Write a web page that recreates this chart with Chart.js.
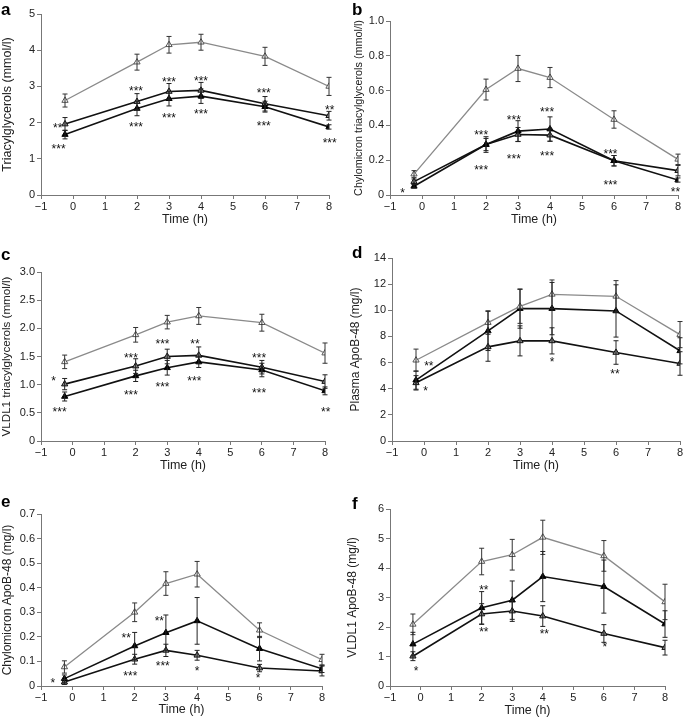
<!DOCTYPE html>
<html>
<head>
<meta charset="utf-8">
<script src="https://cdn.jsdelivr.net/npm/chart.js@4"></script>
<style>
  body { margin: 0; background: #fff; }
  #wrap { position: relative; width: 685px; height: 718px; }
  canvas { position: absolute; }
  .lbl { position: absolute; font: bold 17px "Liberation Sans", Arial, sans-serif; color: #000; line-height: 1; }
</style>
</head>
<body>
<div id="wrap">
  <canvas id="ca" width="340" height="238" style="left:0;top:0"></canvas>
  <canvas id="cb" width="340" height="238" style="left:345px;top:0"></canvas>
  <canvas id="cc" width="340" height="238" style="left:0;top:240px"></canvas>
  <canvas id="cd" width="340" height="238" style="left:345px;top:240px"></canvas>
  <canvas id="ce" width="340" height="238" style="left:0;top:480px"></canvas>
  <canvas id="cf" width="340" height="238" style="left:345px;top:480px"></canvas>
  <div class="lbl" style="left:1px;top:1px">a</div>
  <div class="lbl" style="left:352px;top:1px">b</div>
  <div class="lbl" style="left:1px;top:246px">c</div>
  <div class="lbl" style="left:352px;top:244px">d</div>
  <div class="lbl" style="left:1px;top:493px">e</div>
  <div class="lbl" style="left:352px;top:495px">f</div>
</div>
<script>
// sampling times (h)
const timeH = [-0.25, 2, 3, 4, 6, 8];

// a: Triacylglycerols
const aOpen = [2.61, 3.67, 4.15, 4.22, 3.83, 3.0];
const aOpenErr = [0.18, 0.22, 0.23, 0.22, 0.25, 0.25];
const aBlack = [1.67, 2.39, 2.66, 2.73, 2.44, 1.88];
const aBlackErr = [0.12, 0.2, 0.2, 0.2, 0.15, 0.06];
const aGrey = [1.96, 2.58, 2.86, 2.89, 2.52, 2.19];
const aGreyErr = [0.18, 0.22, 0.22, 0.22, 0.2, 0.12];
const aStars = [[-0.48, 1.92, '**'], [-0.45, 1.34, '***'], [1.97, 2.95, '***'], [1.97, 1.96, '***'],
  [3, 3.2, '***'], [3, 2.21, '***'], [4, 3.23, '***'], [4, 2.32, '***'],
  [5.96, 2.9, '***'], [5.96, 1.98, '***'], [8.02, 2.43, '**'], [8.02, 1.52, '***']];

// b: Chylomicron triacylglycerols
const bOpen = [0.12, 0.606, 0.727, 0.675, 0.434, 0.205];
const bOpenErr = [0.02, 0.06, 0.075, 0.058, 0.05, 0.03];
const bBlack = [0.05, 0.29, 0.367, 0.379, 0.197, 0.086];
const bBlackErr = [0.01, 0.045, 0.06, 0.07, 0.03, 0.012];
const bGrey = [0.077, 0.29, 0.348, 0.344, 0.197, 0.14];
const bGreyErr = [0.015, 0.035, 0.04, 0.035, 0.03, 0.03];
const bStars = [[-0.61, 0.03, '*'], [1.85, 0.36, '***'], [1.85, 0.16, '***'], [2.87, 0.45, '***'],
  [2.87, 0.226, '***'], [3.91, 0.497, '***'], [3.91, 0.243, '***'], [5.89, 0.254, '***'],
  [5.89, 0.073, '***'], [7.92, 0.034, '**']];

// c: VLDL1 triacylglycerols
const cOpen = [1.405, 1.885, 2.11, 2.22, 2.1, 1.56];
const cOpenErr = [0.12, 0.13, 0.12, 0.15, 0.15, 0.18];
const cBlack = [0.79, 1.156, 1.3, 1.405, 1.26, 0.89];
const cBlackErr = [0.08, 0.1, 0.13, 0.1, 0.12, 0.07];
const cGrey = [1.01, 1.33, 1.5, 1.52, 1.31, 1.055];
const cGreyErr = [0.1, 0.13, 0.13, 0.15, 0.12, 0.12];
const cStars = [[-0.6, 1.11, '*'], [-0.41, 0.57, '***'], [1.85, 1.53, '***'], [1.85, 0.877, '***'],
  [2.85, 1.77, '***'], [2.85, 1.01, '***'], [3.88, 1.77, '**'], [3.86, 1.11, '***'],
  [5.91, 1.53, '***'], [5.91, 0.907, '***'], [8.02, 0.57, '**']];

// d: Plasma ApoB-48
const dOpen = [6.18, 9.06, 10.3, 11.22, 11.07, 8.14];
const dOpenErr = [0.85, 0.9, 1.3, 1.1, 1.2, 1.0];
const dBlack = [4.66, 8.42, 10.13, 10.13, 9.95, 6.9];
const dBlackErr = [0.7, 1.5, 1.5, 2.0, 2.0, 1.0];
const dGrey = [4.45, 7.2, 7.66, 7.66, 6.77, 5.93];
const dGreyErr = [0.55, 1.1, 1.15, 1.0, 0.9, 0.9];
const dStars = [[0.15, 5.94, '**'], [0.05, 4.08, '*'], [4.0, 6.27, '*'], [5.97, 5.36, '**']];

// e: Chylomicron ApoB-48
const eOpen = [0.0775, 0.30, 0.417, 0.455, 0.227, 0.107];
const eOpenErr = [0.025, 0.038, 0.048, 0.052, 0.03, 0.022];
const eBlack = [0.03, 0.163, 0.217, 0.265, 0.152, 0.07];
const eBlackErr = [0.015, 0.055, 0.072, 0.095, 0.05, 0.015];
const eGrey = [0.016, 0.109, 0.145, 0.125, 0.073, 0.061];
const eGreyErr = [0.01, 0.02, 0.025, 0.02, 0.015, 0.02];
const eStars = [[-0.62, 0.023, '*'], [1.73, 0.207, '**'], [1.86, 0.053, '***'], [2.79, 0.277, '**'],
  [2.9, 0.095, '***'], [4.0, 0.075, '*'], [5.95, 0.043, '*']];

// f: VLDL1 ApoB-48
const fOpen = [2.09, 4.22, 4.45, 5.04, 4.41, 2.85];
const fOpenErr = [0.35, 0.45, 0.52, 0.58, 0.52, 0.6];
const fBlack = [1.42, 2.65, 2.91, 3.71, 3.37, 2.1];
const fBlackErr = [0.4, 0.55, 0.65, 0.85, 0.9, 0.45];
const fGrey = [1.01, 2.44, 2.54, 2.37, 1.78, 1.3];
const fGreyErr = [0.15, 0.35, 0.35, 0.35, 0.3, 0.25];
const fStars = [[-0.15, 0.62, '*'], [2.07, 3.35, '**'], [2.07, 1.92, '**'], [4.05, 1.87, '**'], [6.03, 1.41, '*']];

const FONT = '"Liberation Sans", Arial, sans-serif';

// vertical error bars with small caps
const errorBars = {
  id: 'errorBars',
  afterDatasetsDraw(chart) {
    const { ctx, scales: { x, y } } = chart;
    chart.data.datasets.forEach(ds => {
      ctx.save();
      ctx.strokeStyle = ds.errColor;
      ctx.lineWidth = 1;
      ds.data.forEach((p, i) => {
        const e = ds.errors[i];
        const px = x.getPixelForValue(p.x);
        const top = y.getPixelForValue(p.y + e);
        const bot = y.getPixelForValue(p.y - e);
        ctx.beginPath();
        ctx.moveTo(px, top); ctx.lineTo(px, bot);
        ctx.moveTo(px - 2.5, top); ctx.lineTo(px + 2.5, top);
        ctx.moveTo(px - 2.5, bot); ctx.lineTo(px + 2.5, bot);
        ctx.stroke();
      });
      ctx.restore();
    });
  }
};

// significance asterisks
const stars = {
  id: 'stars',
  afterDraw(chart, args, opts) {
    const { ctx, scales: { x, y } } = chart;
    ctx.save();
    ctx.fillStyle = '#111';
    ctx.font = '12px ' + FONT;
    ctx.textAlign = 'center';
    ctx.textBaseline = 'alphabetic';
    (opts.items || []).forEach(s => {
      ctx.fillText(s[2], x.getPixelForValue(s[0]), y.getPixelForValue(s[1]) + 7);
    });
    ctx.restore();
  }
};

function series(vals, errs, kind) {
  const look = {
    open: { line: '#8a8a8a', bg: '#fff', edge: '#555', err: '#333', w: 1.3 },
    black: { line: '#111', bg: '#000', edge: '#000', err: '#222', w: 1.6 },
    grey: { line: '#111', bg: '#8c8c8c', edge: '#111', err: '#222', w: 1.6 }
  }[kind];
  return {
    data: vals.map((v, i) => ({ x: timeH[i], y: v })),
    errors: errs,
    errColor: look.err,
    borderColor: look.line,
    borderWidth: look.w,
    pointStyle: 'triangle',
    pointRadius: 3.6,
    pointBackgroundColor: look.bg,
    pointBorderColor: look.edge,
    pointBorderWidth: 1,
    tension: 0
  };
}

function makePanel(id, p) {
  const c = document.getElementById(id);
  const H = c.height, W = c.width;
  return new Chart(c.getContext('2d'), {
    type: 'line',
    data: {
      datasets: [
        series(p.open[0], p.open[1], 'open'),
        series(p.black[0], p.black[1], 'black'),
        series(p.grey[0], p.grey[1], 'grey')
      ]
    },
    options: {
      responsive: false,
      animation: false,
      layout: { padding: { top: p.top, right: W - p.right, left: 0, bottom: 0 } },
      plugins: { legend: { display: false }, tooltip: { enabled: false }, stars: { items: p.stars } },
      scales: {
        x: {
          type: 'linear', min: -1, max: 8,
          afterFit(s) { s.height = H - p.bottom; },
          border: { color: '#777', width: 1 },
          grid: { drawOnChartArea: false, drawTicks: true, tickLength: 4, color: '#777' },
          ticks: { stepSize: 1, padding: 1, color: '#222', font: { family: FONT, size: 11 },
            callback: v => (v < 0 ? '\u2212' + Math.abs(v) : String(v)) },
          title: { display: true, text: 'Time (h)', color: '#222', font: { family: FONT, size: 12.5 },
            padding: { top: 0, bottom: p.xTitlePad } }
        },
        y: {
          min: 0, max: p.ymax,
          afterFit(s) { s.width = p.left; },
          border: { color: '#777', width: 1 },
          grid: { drawOnChartArea: false, drawTicks: true, tickLength: 4, color: '#777' },
          ticks: { stepSize: p.step, padding: 2, color: '#222', font: { family: FONT, size: 11 } },
          title: { display: true, text: p.title, color: '#222', font: { family: FONT, size: p.titleSize },
            padding: { top: p.yTitlePad, bottom: 0 } }
        }
      }
    },
    plugins: [errorBars, stars]
  });
}

makePanel('ca', { open: [aOpen, aOpenErr], black: [aBlack, aBlackErr], grey: [aGrey, aGreyErr], stars: aStars,
  title: 'Triacylglycerols (mmol/l)', titleSize: 12.5, ymax: 5, step: 1,
  left: 41, right: 329, top: 14, bottom: 195, xTitlePad: 11, yTitlePad: 0 });
makePanel('cb', { open: [bOpen, bOpenErr], black: [bBlack, bBlackErr], grey: [bGrey, bGreyErr], stars: bStars,
  title: 'Chylomicron triacylglycerols (mmol/l)', titleSize: 10.8, ymax: 1, step: 0.2,
  left: 45, right: 333, top: 21, bottom: 195, xTitlePad: 11, yTitlePad: 8 });
makePanel('cc', { open: [cOpen, cOpenErr], black: [cBlack, cBlackErr], grey: [cGrey, cGreyErr], stars: cStars,
  title: 'VLDL1 triacylglycerols (mmol/l)', titleSize: 11.6, ymax: 3, step: 0.5,
  left: 41, right: 325, top: 32, bottom: 201, xTitlePad: 5, yTitlePad: 0 });
makePanel('cd', { open: [dOpen, dOpenErr], black: [dBlack, dBlackErr], grey: [dGrey, dGreyErr], stars: dStars,
  title: 'Plasma ApoB-48 (mg/l)', titleSize: 12, ymax: 14, step: 2,
  left: 47, right: 337, top: 18, bottom: 201, xTitlePad: 5, yTitlePad: 3 });
makePanel('ce', { open: [eOpen, eOpenErr], black: [eBlack, eBlackErr], grey: [eGrey, eGreyErr], stars: eStars,
  title: 'Chylomicron ApoB-48 (mg/l)', titleSize: 12, ymax: 0.7, step: 0.1,
  left: 41, right: 322, top: 34, bottom: 206, xTitlePad: 1, yTitlePad: 0 });
makePanel('cf', { open: [fOpen, fOpenErr], black: [fBlack, fBlackErr], grey: [fGrey, fGreyErr], stars: fStars,
  title: 'VLDL1 ApoB-48 (mg/l)', titleSize: 12, ymax: 6, step: 1,
  left: 45, right: 320, top: 29, bottom: 206, xTitlePad: 0, yTitlePad: 0 });
</script>
</body>
</html>
